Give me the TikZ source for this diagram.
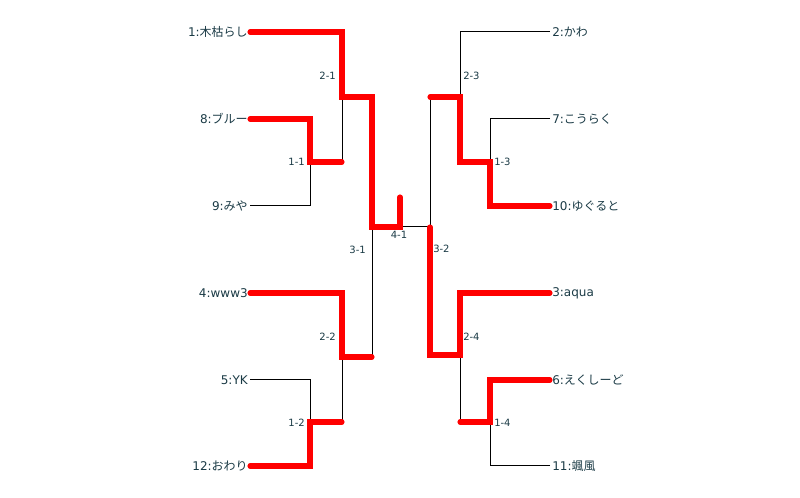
\documentclass[tikz,border=0pt]{standalone}
\usepackage{fontspec}
\setmainfont{DejaVu Sans}
\newfontfamily\cjk{Noto Sans CJK JP}
\definecolor{namecol}{HTML}{1A3A45}
\begin{document}
\begin{tikzpicture}[x=0.75pt,y=-0.75pt,
  lose/.style={draw=black,line width=0.75pt},
  win/.style={draw=red,line width=3.8pt,line cap=round},
  player/.style={inner sep=1.5pt,text=namecol,font=\fontsize{9}{10}\selectfont},
  score/.style={inner sep=0pt,text=namecol,font=\fontsize{7.5}{8}\selectfont}]
\useasboundingbox (0,0) rectangle (800,498);
% players, left and right
\foreach \n/\y/\texto in {p1/32/{1:{\cjk 木枯らし}},p8/119/{8:{\cjk ブルー}},p9/206/{9:{\cjk みや}},p4/293/{4:www3},p5/380/{5:YK},p12/466/{12:{\cjk おわり}}}
\node[player,anchor=east] (\n) at (250,\y) {\texto};
\foreach \n/\y/\texto in {p2/32/{2:{\cjk かわ}},p7/119/{7:{\cjk こうらく}},p10/206/{10:{\cjk ゆぐると}},p3/293/{3:aqua},p6/380/{6:{\cjk えくしーど}},p11/466/{11:{\cjk 颯風}}}
\node[player,anchor=west] (\n) at (550,\y) {\texto};
% junctions
\coordinate (j11) at (310,162); \coordinate (j12) at (310,422);
\coordinate (j21) at (342,97);  \coordinate (j22) at (342,357);
\coordinate (j31) at (372,227); \coordinate (j41) at (400,227);
\coordinate (c41) at (400,197);
\coordinate (j13) at (490,162); \coordinate (j14) at (490,422);
\coordinate (j23) at (460,97);  \coordinate (j24) at (460,355);
\coordinate (j32) at (430,227);
% thin lines
\draw[lose] (p9.east) -| (j11);
\draw[lose] (j11 -| j21) -- (j21);
\draw[lose] (j22) -- (j12 -| j22);
\draw[lose] (p5.east) -| (j12);
\draw[lose] (j31) -- (j22 -| j31);
\draw[lose] (j41) -- (j32);
\draw[lose] (p2.west) -| (j23);
\draw[lose] (p7.west) -| (j13);
\draw[lose] (j23 -| j32) -- (j32);
\draw[lose] (j24) -- (j24 |- j14);
\draw[lose] (p11.west) -| (j14);
% thick lines
\draw[win] (p1.east) -| (j21) -| (j31) -- (j41) -- (c41);
\draw[win] (p8.east) -| (j11) -- (j11 -| j21);
\draw[win] (p4.east) -| (j22) -- (j22 -| j31);
\draw[win] (p12.east) -| (j12) -- (j12 -| j22);
\draw[win] (p10.west) -| (j13) -- (j13 -| j23) -- (j23) -- (j23 -| j32);
\draw[win] (j32) |- (j24) |- (p3.west);
\draw[win] (p6.west) -| (j14) -- (j14 -| j24);
% match numbers
\foreach \n/\x/\y/\texto in {s21/336/76/2-1,s11/305/162/1-1,s31/366/250/3-1,s22/336/337/2-2,s12/305/423/1-2}
\node[score,anchor=east] (\n) at (\x,\y) {\texto};
\foreach \n/\x/\y/\texto in {s23/463/76/2-3,s13/494/162/1-3,s32/433/249/3-2,s24/463/337/2-4,s14/494/423/1-4}
\node[score,anchor=west] (\n) at (\x,\y) {\texto};
\node[score] (s41) at (399,235) {4-1};
\end{tikzpicture}
\end{document}
